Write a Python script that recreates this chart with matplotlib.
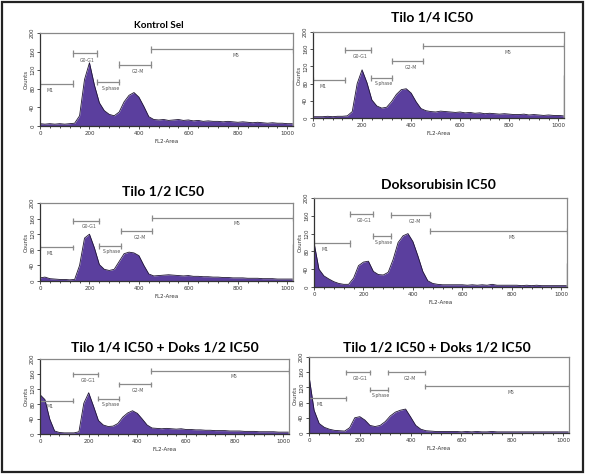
"""Cell-cycle histograms (FL2-Area) for six treatments."""

import matplotlib.pyplot as plt
from matplotlib.patches import Rectangle
from matplotlib.ticker import MultipleLocator

# FL2-Area channel of each count value
channels = list(range(0, 1024, 20))

titles = ['Kontrol Sel', 'Tilo 1/4 IC50', 'Tilo 1/2 IC50', 'Doksorubisin IC50',
          'Tilo 1/4 IC50 + Doks 1/2 IC50', 'Tilo 1/2 IC50 + Doks 1/2 IC50']

counts_kontrol = [5, 4, 5, 4, 5, 4, 5, 6, 22, 100, 136, 88, 50, 33, 25, 22, 30, 52, 66, 72,
                  62, 42, 20, 14, 13, 14, 12, 13, 14, 12, 13, 11, 12, 10, 11, 10, 10, 9, 10, 9,
                  8, 9, 8, 7, 8, 7, 6, 7, 6, 6, 5, 5]
counts_tilo14 = [3, 3, 3, 4, 3, 4, 4, 5, 15, 80, 112, 82, 42, 28, 23, 25, 38, 55, 66, 68,
                 58, 38, 22, 17, 15, 14, 16, 15, 14, 13, 14, 12, 13, 11, 12, 10, 11, 10, 9, 10,
                 9, 8, 8, 9, 7, 8, 7, 6, 7, 6, 6, 5]
counts_tilo12 = [8, 10, 6, 5, 4, 4, 3, 4, 40, 110, 120, 85, 42, 30, 27, 30, 50, 70, 74, 72,
                 65, 40, 18, 13, 14, 15, 16, 15, 14, 13, 14, 12, 12, 11, 11, 10, 10, 9, 9, 8,
                 8, 8, 7, 7, 7, 6, 6, 6, 5, 5, 5, 5]
counts_doks = [100, 40, 25, 18, 12, 8, 6, 6, 20, 48, 56, 58, 35, 28, 27, 33, 62, 100, 115, 120,
               102, 70, 35, 14, 8, 6, 5, 5, 5, 5, 5, 4, 5, 4, 5, 4, 6, 4, 4, 4,
               4, 4, 3, 4, 3, 4, 3, 3, 3, 3, 3, 3]
counts_t14_d12 = [105, 92, 40, 8, 4, 3, 3, 3, 6, 82, 110, 74, 36, 24, 20, 21, 28, 45, 56, 62,
                  55, 40, 24, 16, 15, 14, 15, 14, 13, 14, 12, 12, 11, 11, 10, 10, 9, 9, 9, 8,
                  8, 8, 7, 7, 7, 6, 6, 6, 6, 5, 5, 5]
counts_t12_d12 = [150, 60, 25, 15, 10, 7, 6, 5, 14, 40, 43, 34, 20, 17, 20, 30, 45, 55, 60, 63,
                  42, 20, 10, 6, 5, 4, 4, 4, 4, 4, 3, 4, 3, 4, 3, 3, 4, 3, 3, 3,
                  3, 3, 3, 3, 3, 3, 3, 3, 3, 3, 3, 3]

# off-scale events piled up in the last channel
overflow = [98, 100, 95, 54, 0, 0]

# marker gates: (name, start, end, level)
gates_kontrol = [('M1', 0, 132, 91), ('G0-G1', 132, 232, 156), ('S-phase', 232, 321, 95),
                 ('G2-M', 321, 448, 132), ('M5', 448, 1023, 165)]
gates_tilo14 = [('M1', 0, 131, 89), ('G0-G1', 131, 236, 158), ('S-phase', 236, 324, 94),
                ('G2-M', 324, 450, 133), ('M5', 450, 1023, 168)]
gates_tilo12 = [('M1', 0, 135, 86), ('G0-G1', 135, 239, 154), ('S-phase', 239, 327, 90),
                ('G2-M', 327, 452, 128), ('M5', 452, 1023, 162)]
gates_doks = [('M1', 0, 145, 98), ('G0-G1', 145, 240, 164), ('S-phase', 240, 311, 115),
              ('G2-M', 311, 471, 162), ('M5', 471, 1023, 126)]
gates_t14_d12 = [('M1', 0, 137, 89), ('G0-G1', 137, 237, 159), ('S-phase', 237, 325, 94),
                 ('G2-M', 325, 454, 133), ('M5', 454, 1023, 168)]
gates_t12_d12 = [('M1', 0, 145, 91), ('G0-G1', 145, 239, 160), ('S-phase', 239, 311, 114),
                 ('G2-M', 311, 456, 160), ('M5', 456, 1023, 123)]

all_counts = [counts_kontrol, counts_tilo14, counts_tilo12, counts_doks,
              counts_t14_d12, counts_t12_d12]
all_gates = [gates_kontrol, gates_tilo14, gates_tilo12, gates_doks,
             gates_t14_d12, gates_t12_d12]

W, H = 589, 474
# axes boxes in pixels: (left, top, right, bottom)
boxes = [(40, 33, 293, 126), (313, 32, 564, 118),
         (40, 203, 293, 281), (314, 198, 567, 287),
         (40, 359, 289, 434), (309, 357, 569, 433)]
# title centres in pixels, and sizes (the first one is set smaller)
title_xy = [(159, 25), (432, 18), (163, 192), (438, 185), (165, 347), (437, 348)]
title_size = [7.2, 10, 10, 10, 10, 10]

FILL = '#5b3f9e'
GATE = '#8a8a8a'

fig = plt.figure(figsize=(W / 100, H / 100), dpi=100)

for i in range(6):
    l, t, r, b = boxes[i]
    ax = fig.add_axes([l / W, 1 - b / H, (r - l) / W, (b - t) / H])
    y = all_counts[i]
    ax.fill_between(channels, 0, y, color=FILL, lw=0)
    ax.plot(channels, y, color='#1e1433', lw=0.6)
    if overflow[i]:
        ax.vlines(1022, 0, overflow[i], color='#333333', lw=0.9)

    for name, lo, hi, lev in all_gates[i]:
        ax.plot([lo, hi], [lev, lev], color=GATE, lw=0.9)
        ax.vlines([lo, hi], lev - 7, lev + 7, color=GATE, lw=0.9)
        xt = lo + (hi - lo) * (0.3 if name == 'M1' else 0.6)
        ax.text(xt, lev - 9, name, fontsize=3.3, color='#555555',
                ha='center', va='top')

    ax.set_xlim(0, 1023)
    ax.set_ylim(0, 200)
    ax.set_xticks([0, 200, 400, 600, 800, 1000])
    ax.set_yticks([0, 40, 80, 120, 160, 200])
    ax.xaxis.set_minor_locator(MultipleLocator(40))
    ax.tick_params(labelsize=4, length=2, width=0.6, pad=1.5, colors='#333333')
    ax.tick_params(which='minor', length=1.2, width=0.5)
    for lab in ax.get_yticklabels():
        lab.set_rotation(90)
        lab.set_va('center')
    ax.set_xlabel('FL2-Area', fontsize=4, labelpad=2, color='#333333')
    ax.set_ylabel('Counts', fontsize=4, labelpad=1, color='#333333')
    for s in ax.spines.values():
        s.set_color('#888888')
        s.set_linewidth(0.9)
    ax.spines['left'].set_color('#333333')
    ax.spines['bottom'].set_color('#333333')

    tx, ty = title_xy[i]
    fig.text(tx / W, 1 - ty / H, titles[i], fontsize=title_size[i], fontweight='bold',
             family='Lato', ha='center', va='center')

# outer frame of the figure panel
fig.add_artist(Rectangle((2 / W, 2 / H), 581 / W, 470 / H, transform=fig.transFigure,
                         fill=False, ec='#222222', lw=1.6))

fig.savefig('out.png', dpi=100)
